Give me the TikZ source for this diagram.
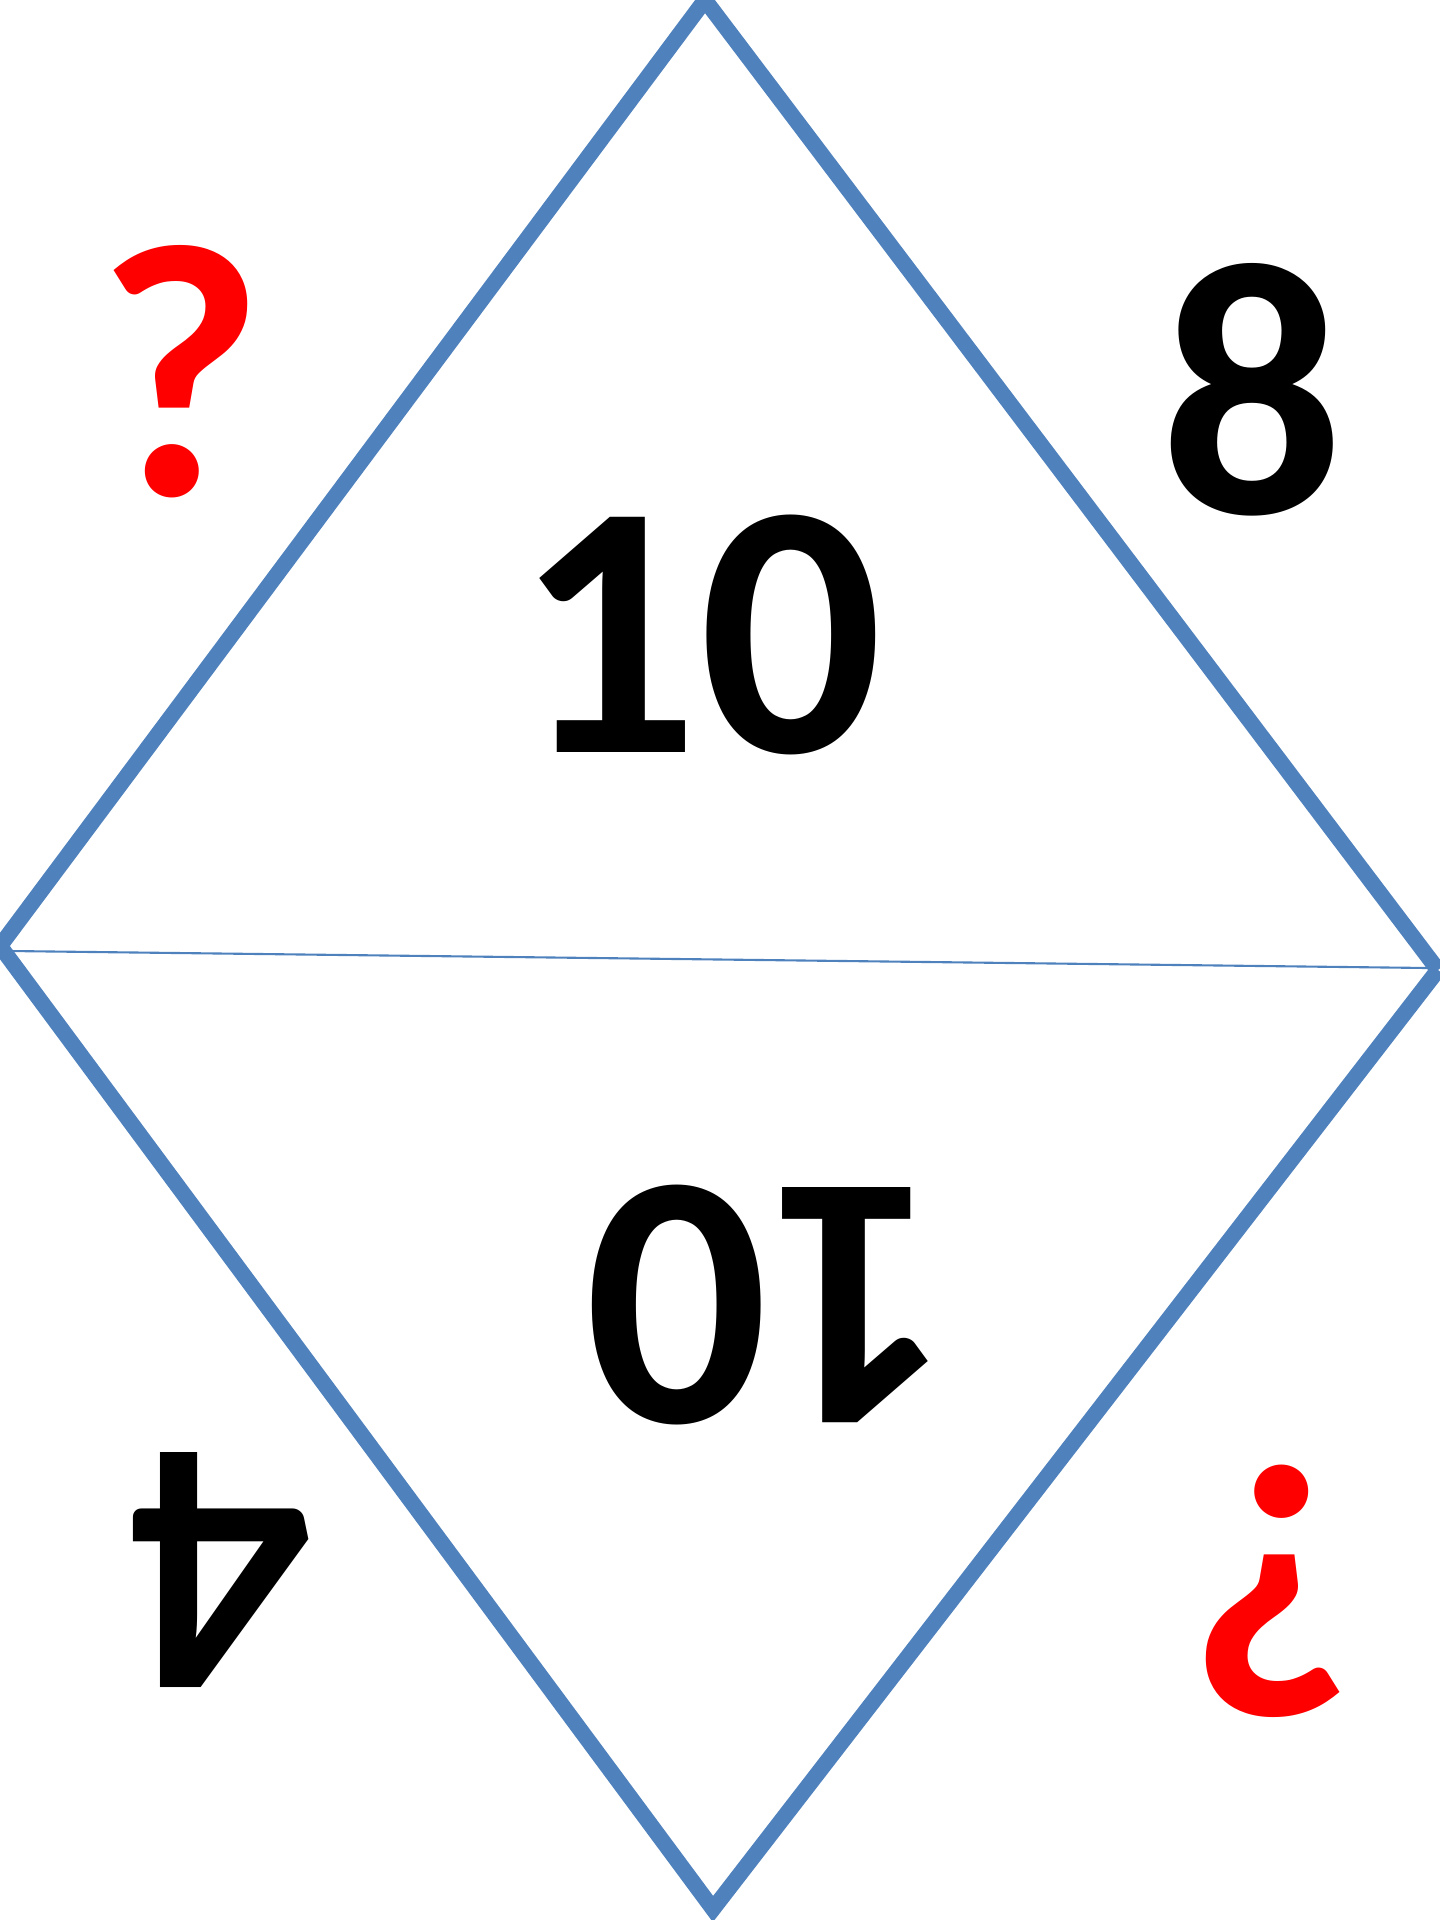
\documentclass[tikz,border=0pt]{standalone}
\usepackage{fontspec}
\setmainfont{Carlito}
\usepackage{tikz}
\definecolor{edgeblue}{HTML}{4F81BD}

\begin{document}
\begin{tikzpicture}[x=0.01cm, y=-0.01cm,
  side/.style={line width=4.5pt, color=edgeblue, line join=miter},
  fold/.style={line width=0.6pt, color=edgeblue},
  num/.style={inner sep=0pt, font=\fontsize{103}{103}\selectfont\bfseries}]

\useasboundingbox (0,0) rectangle (1440,1920);
\clip (0,0) rectangle (1440,1920);

\coordinate (top) at (705,0);
\coordinate (left) at (0,946);
\coordinate (right) at (1438,970);
\coordinate (bottom) at (713,1909);

\coordinate (foldL) at (10,951);
\coordinate (foldR) at (1428,968);

\draw[fold] (foldL) -- (foldR);

\draw[side] (left) -- (top) -- (right);
\draw[side] (left) -- (bottom) -- (right);

\node[num] (topten) at (699,635) {10};
\node[num] (eight) at (1252,390) {8};
\node[num, red] (askL) at (180,372) {?};

\node[num, rotate=180] (botten) at (769,1305) {10};
\node[num, rotate=180] (four) at (220,1570) {4};
\node[num, red, rotate=180] (askR) at (1274,1591) {?};

\end{tikzpicture}
\end{document}
